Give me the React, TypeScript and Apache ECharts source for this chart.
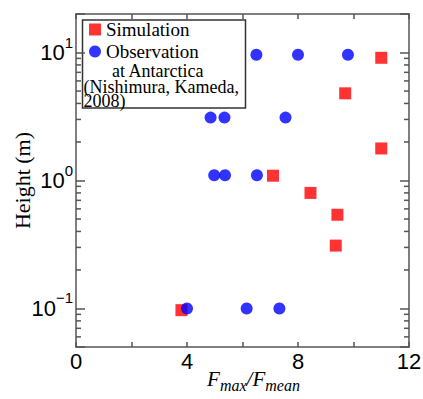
import React, { useEffect, useRef } from 'react';
import * as echarts from 'echarts';

// Simulation (red squares)
const simulationX = [11.0, 9.7, 11.0, 7.1, 8.45, 9.42, 9.36, 3.8];
const simulationY = [9.1, 4.8, 1.78, 1.09, 0.8, 0.54, 0.31, 0.097];
// Observation at Antarctica (blue circles)
const observationX = [6.5, 8.0, 9.8, 4.85, 5.35, 7.55, 4.98, 5.37, 6.52, 4.0, 6.15, 7.33];
const observationY = [9.6, 9.6, 9.6, 3.1, 3.1, 3.1, 1.1, 1.1, 1.1, 0.1, 0.1, 0.1];
// x tick labels shown
const xTickLabels = [0, 4, 8, 12];
// minor log ticks on y
const yMinorTicks = [0.06, 0.07, 0.08, 0.09, 0.2, 0.3, 0.4, 0.5, 0.6, 0.7, 0.8, 0.9, 2, 3, 4, 5, 6, 7, 8, 9];
const legendNotes = ['at Antarctica', '(Nishimura, Kameda,', '2008)'];

const AXIS_COLOR = '#555';

export default function App() {
  const ref = useRef<HTMLDivElement>(null);
  useEffect(() => {
    if (!ref.current) return;
    const chart = echarts.init(ref.current, null, { renderer: 'svg' });
    const axisLine = { show: true, onZero: false, lineStyle: { color: AXIS_COLOR, width: 1.5 } };
    const supFormatter = (v: number) => {
      const l = Math.log10(v);
      const r = Math.round(l);
      if (Math.abs(l - r) > 1e-6) return '';
      return `{b|10}{s|${r < 0 ? '\u2212' + -r : r}}`;
    };
    const noteStyle = { verticalAlign: 'middle', fontFamily: 'Liberation Serif', fontSize: 18, fill: '#000' };
    chart.setOption({
      animation: false,
      grid: { left: 76, right: 14, top: 14, bottom: 52, containLabel: false, outerBoundsMode: 'none' },
      legend: {
        data: ['Simulation', 'Observation'],
        orient: 'vertical',
        left: 89,
        top: 20,
        padding: 0,
        itemGap: 3,
        itemWidth: 12,
        itemHeight: 12,
        textStyle: { fontFamily: 'Liberation Serif', fontSize: 19, lineHeight: 19, color: '#000' },
      },
      graphic: [
        {
          type: 'rect',
          shape: { x: 82.5, y: 20, width: 163, height: 88 },
          style: { fill: '#fff', stroke: '#333', lineWidth: 1.5 },
          z: 0,
        },
        { type: 'text', style: { ...noteStyle, lineHeight: 15, text: legendNotes[0], x: 112, y: 71 }, z: 5 },
        {
          type: 'text',
          style: { ...noteStyle, lineHeight: 14, text: legendNotes[1] + '\n' + legendNotes[2], x: 83.5, y: 93.5 },
          z: 5,
        },
      ],
      xAxis: [
        {
          type: 'value',
          position: 'bottom',
          min: 0,
          max: 12,
          interval: 2,
          axisLine,
          axisTick: { show: true, inside: true, length: 5, lineStyle: { color: AXIS_COLOR, width: 1.5 } },
          splitLine: { show: false },
          axisLabel: {
            margin: 3,
            fontFamily: 'Liberation Sans',
            fontSize: 22,
            color: '#000',
            formatter: (v: number) => (xTickLabels.includes(v) ? String(v) : ''),
          },
          name: '{f|F}{s|max}{f|/F}{s|mean}',
          nameLocation: 'middle',
          nameGap: 21,
          nameMoveOverlap: false,
          nameTextStyle: {
            padding: [0, 0, 0, 22],
            rich: {
              f: { fontFamily: 'Liberation Serif', fontStyle: 'italic', fontSize: 21, lineHeight: 21, verticalAlign: 'top', color: '#000' },
              s: { fontFamily: 'Liberation Serif', fontStyle: 'italic', fontSize: 16, lineHeight: 16, padding: [9, 0, 0, 0], verticalAlign: 'top', color: '#000' },
            },
          },
        },
        {
          type: 'value',
          position: 'top',
          min: 0,
          max: 12,
          interval: 2,
          axisLine,
          axisTick: { show: true, inside: true, length: 5, lineStyle: { color: AXIS_COLOR, width: 1.5 } },
          axisLabel: { show: false },
          splitLine: { show: false },
        },
      ],
      yAxis: [
        {
          type: 'log',
          logBase: 10,
          position: 'left',
          min: 0.05,
          max: 20,
          axisLine,
          axisTick: { show: true, inside: true, length: 9, lineStyle: { color: AXIS_COLOR, width: 1.5 } },
          splitLine: { show: false },
          minorTick: { show: false },
          axisLabel: {
            margin: 3,
            formatter: supFormatter,
            rich: {
              b: { fontFamily: 'Liberation Sans', fontSize: 22, lineHeight: 22, verticalAlign: 'bottom', color: '#000' },
              s: { fontFamily: 'Liberation Sans', fontSize: 15, lineHeight: 15, padding: [0, 0, 14, 0], verticalAlign: 'bottom', color: '#000' },
            },
          },
          name: 'Height (m)',
          nameLocation: 'middle',
          nameGap: 43,
          nameMoveOverlap: false,
          nameTextStyle: { fontFamily: 'Liberation Serif', fontSize: 22, color: '#000' },
        },
        {
          type: 'log',
          logBase: 10,
          position: 'right',
          min: 0.05,
          max: 20,
          axisLine,
          axisTick: { show: true, inside: true, length: 9, lineStyle: { color: AXIS_COLOR, width: 1.5 } },
          splitLine: { show: false },
          axisLabel: { show: false },
        },
      ],
      series: [
        {
          type: 'custom',
          name: 'minorTicks',
          silent: true,
          clip: false,
          z: 3,
          xAxisIndex: 0,
          yAxisIndex: 0,
          data: yMinorTicks.map((v) => [0, v]),
          renderItem: (_params: any, api: any) => {
            const v = api.value(1);
            const l = api.coord([0, v]);
            const r = api.coord([12, v]);
            const st = { stroke: AXIS_COLOR, lineWidth: 1.5 };
            return {
              type: 'group',
              children: [
                { type: 'line', shape: { x1: l[0], y1: l[1], x2: l[0] + 5, y2: l[1] }, style: st },
                { type: 'line', shape: { x1: r[0], y1: r[1], x2: r[0] - 5, y2: r[1] }, style: st },
              ],
            };
          },
        },
        {
          type: 'scatter',
          name: 'Simulation',
          symbol: 'rect',
          symbolSize: 12,
          itemStyle: { color: '#ff0000' },
          data: simulationX.map((x, i) => [x, simulationY[i]]),
          z: 4,
        },
        {
          type: 'scatter',
          name: 'Observation',
          symbol: 'circle',
          symbolSize: 12,
          itemStyle: { color: '#0000ff' },
          data: observationX.map((x, i) => [x, observationY[i]]),
          z: 5,
        },
      ],
    });
    return () => chart.dispose();
  }, []);
  return <div ref={ref} style={{ position: 'absolute', left: 0, top: 0, width: 423, height: 399 }} />;
}
